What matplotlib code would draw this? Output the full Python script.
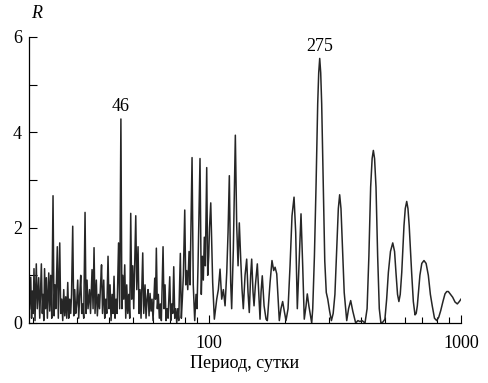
import numpy as np
import matplotlib
matplotlib.use('Agg')
import matplotlib.pyplot as plt
from matplotlib.ticker import NullFormatter, LogLocator

# periodogram: period (days) and R
period = [
    19.40, 19.61, 19.76, 19.90, 20.06, 20.20, 20.39, 20.63, 20.82, 21.09,
    21.29, 21.61, 21.80, 21.94, 22.09, 22.25, 22.45, 22.62, 22.83, 23.12,
    23.32, 23.54, 23.76, 24.04, 24.26, 24.48, 24.66, 25.00, 25.23, 25.56,
    25.79, 26.03, 26.27, 26.51, 26.76, 27.00, 27.25, 27.50, 27.75, 28.00,
    28.26, 28.47, 28.78, 29.05, 29.31, 29.58, 29.85, 30.12, 30.40, 30.68,
    30.97, 31.25, 31.54, 31.83, 32.21, 32.51, 32.80, 33.10, 33.57, 33.87,
    34.34, 34.66, 34.97, 35.29, 35.71, 36.04, 36.43, 36.77, 37.11, 37.45,
    37.79, 38.21, 38.56, 38.92, 39.28, 39.74, 40.11, 40.48, 40.85, 41.23,
    41.61, 41.98, 42.37, 42.76, 43.15, 43.75, 44.20, 44.70, 45.10, 45.46,
    45.88, 46.29, 46.72, 47.15, 47.58, 48.02, 48.46, 48.90, 49.35, 49.80,
    50.26, 51.20, 51.67, 52.28, 52.76, 53.24, 53.73, 54.57, 55.07, 55.73,
    56.24, 56.76, 57.28, 57.81, 58.34, 58.88, 59.41, 59.96, 60.90, 61.35,
    61.80, 62.37, 62.94, 63.51, 64.10, 64.69, 65.70, 66.30, 66.91, 67.52,
    68.14, 68.77, 69.85, 70.49, 71.14, 71.79, 72.45, 73.11, 73.78, 74.46,
    75.14, 75.83, 76.95, 77.66, 78.37, 79.10, 80.11, 80.84, 81.59, 82.34,
    83.33, 84.09, 85.64, 86.59, 87.75, 88.80, 89.61, 90.44, 92.10, 93.20,
    94.06, 94.93, 95.80, 96.68, 97.92, 98.82, 99.73, 100.46, 101.6,
    103.4, 105.0, 107.3, 108.9, 110.6, 112.3, 114.0, 115.8, 117.6, 119.0,
    120.4, 121.9, 123.0, 124.9, 127.2, 128.8, 130.4, 131.9, 133.6, 135.2,
    136.8, 139.0, 141.1, 142.8, 144.5, 146.3, 147.7, 149.5, 150.9, 152.7,
    155.5, 157.5, 159.4, 160.9, 162.7, 165.4, 168.4, 170.4, 174.7, 177.8,
    180.6, 182.9, 185.7, 188.0, 190.1, 193.0, 196.0, 198.9, 202.1, 205.9,
    209.7, 213.5, 217.5, 220.8, 224.1, 227.5, 231.8, 235.4, 238.8, 242.6,
    245.5, 249.2, 255.6,
    258, 262, 266, 270, 272.5, 275, 277.5, 280, 284, 288,
    292, 296, 301, 306, 311, 316, 322, 326, 330, 334,
    338, 344, 352, 358, 365, 372, 382, 390, 397, 405,
    416, 424, 431, 438, 444, 449, 454, 460, 467, 474,
    481, 490, 499, 507, 515, 525, 536, 545, 552, 560,
    567, 574, 582, 594, 601, 609, 616, 623, 637, 647,
    657, 664, 671, 687, 699, 713, 727, 742, 756, 769,
    785, 801, 816, 831, 848, 864, 878, 891, 909, 927,
    947, 967, 985, 1000,
]
r_val = [
    0.30, 0.96, 0.10, 0.67, 0.20, 1.14, 0.05, 1.24, 0.30, 0.95,
    0.10, 1.24, 0.20, 0.60, 0.05, 1.14, 0.30, 0.95, 0.10, 1.05,
    0.25, 1.00, 0.10, 2.67, 0.15, 0.80, 0.30, 1.60, 0.10, 1.68,
    0.20, 0.50, 0.05, 0.70, 0.15, 0.55, 0.10, 0.85, 0.10, 0.50,
    0.20, 0.60, 2.03, 0.15, 0.70, 0.20, 0.40, 0.90, 0.10, 0.60,
    1.00, 0.20, 0.40, 0.10, 2.32, 0.20, 0.90, 0.30, 0.70, 0.20,
    1.12, 0.30, 1.58, 0.20, 0.90, 0.15, 0.60, 0.30, 0.80, 1.22,
    0.20, 0.90, 0.10, 0.50, 0.20, 1.40, 0.30, 0.80, 0.05, 0.60,
    0.20, 0.98, 0.10, 0.50, 0.20, 1.68, 0.30, 4.28, 0.30, 1.00,
    0.50, 1.22, 0.10, 0.80, 0.20, 0.60, 0.10, 2.30, 0.50, 1.20,
    0.30, 2.25, 0.70, 1.60, 0.20, 0.70, 0.10, 1.47, 0.20, 0.80,
    0.10, 0.50, 0.70, 0.15, 0.62, 0.25, 0.50, 0.05, 0.94, 0.50,
    1.57, 0.30, 0.60, 0.10, 0.40, 0.05, 1.60, 0.30, 0.80, 0.05,
    0.30, 0.10, 0.97, 0.05, 0.40, 0.20, 1.18, 0.10, 0.30, 0.00,
    0.30, 0.05, 1.46, 0.10, 0.50, 1.00, 2.37, 0.80, 1.10, 0.70,
    1.50, 0.80, 3.47, 0.80, 0.05, 0.60, 0.30, 1.20, 3.45, 0.60,
    1.40, 0.90, 1.80, 1.20, 3.26, 1.00, 1.40, 2.00, 2.52,
    0.85, 0.08, 0.50, 0.70, 1.13, 0.50, 0.70, 0.36, 1.06, 1.90,
    3.09, 0.85, 0.30, 1.55, 3.94, 2.04, 1.20, 2.10, 1.34, 0.71,
    0.30, 1.00, 1.34, 0.65, 0.22, 1.00, 1.34, 0.65, 0.36, 0.78,
    1.24, 0.65, 0.08, 0.65, 0.99, 0.36, 0.08, 0.05, 0.85, 1.31,
    1.10, 1.17, 1.03, 0.50, 0.05, 0.30, 0.45, 0.25, 0.05, 0.30,
    1.20, 2.25, 2.64, 1.90, 0.30, 1.20, 2.29, 1.20, 0.08, 0.35,
    0.61, 0.35, 0.00,
    0.30, 1.40, 2.90, 4.60, 5.25, 5.55, 5.25, 4.60, 2.90, 1.30,
    0.64, 0.50, 0.25, 0.05, 0.20, 0.60, 1.70, 2.40, 2.69, 2.40,
    1.70, 0.64, 0.05, 0.30, 0.47, 0.25, 0.00, 0.05, 0.03, 0.05,
    0.00, 0.30, 1.40, 2.85, 3.45, 3.62, 3.45, 2.85, 1.40, 0.30,
    0.00, 0.02, 0.08, 0.50, 1.06, 1.50, 1.68, 1.50, 1.06, 0.60,
    0.45, 0.60, 1.06, 2.04, 2.40, 2.55, 2.40, 2.04, 1.06, 0.45,
    0.17, 0.20, 0.36, 1.00, 1.25, 1.31, 1.25, 1.00, 0.60, 0.36,
    0.10, 0.05, 0.12, 0.26, 0.45, 0.61, 0.66, 0.66, 0.60, 0.54,
    0.44, 0.40, 0.45, 0.50,
]
marked = [46, 275]

plt.rcParams['font.family'] = ['Liberation Serif', 'DejaVu Serif']
plt.rcParams['font.size'] = 13

p = np.array(period)
r = np.array(r_val)

fig = plt.figure(figsize=(4.89, 3.83), dpi=100)
ax = fig.add_axes([0.0593, 0.1567, 0.8834, 0.7467])
ax.plot(p, r, color='#262626', lw=1.1)

ax.set_xscale('log')
ax.set_xlim(19.3, 1000)
ax.set_ylim(0, 6)
ax.spines['top'].set_visible(False)
ax.spines['right'].set_visible(False)
ax.spines['left'].set_linewidth(0.9)
ax.spines['bottom'].set_linewidth(0.9)

ax.set_yticks([0, 2, 4, 6])
ax.set_yticks([1, 3, 5], minor=True)
ax.set_xticks([100, 1000])
ax.set_xticklabels(['100', '1000'])
ax.xaxis.set_minor_locator(LogLocator(base=10, subs=np.arange(2, 10)))
ax.xaxis.set_minor_formatter(NullFormatter())
ax.tick_params(which='both', direction='in', width=0.8)
ax.tick_params(axis='y', which='both', length=6, pad=5)
ax.tick_params(axis='x', which='major', length=6, pad=9)
ax.tick_params(axis='x', which='minor', length=4)

ax.set_xlabel('Период, сутки', labelpad=2)
fig.text(37 / 489, 1 - 14 / 383, 'R', style='italic', ha='center', va='center')

# label the two marked peaks at the highest point near each period
for m in marked:
    near = (p > m * 0.9) & (p < m * 1.1)
    i = np.argmax(np.where(near, r, -1))
    ax.text(p[i], r[i] + 0.08, str(m), ha='center', va='bottom')

fig.savefig('out.png', dpi=100)
